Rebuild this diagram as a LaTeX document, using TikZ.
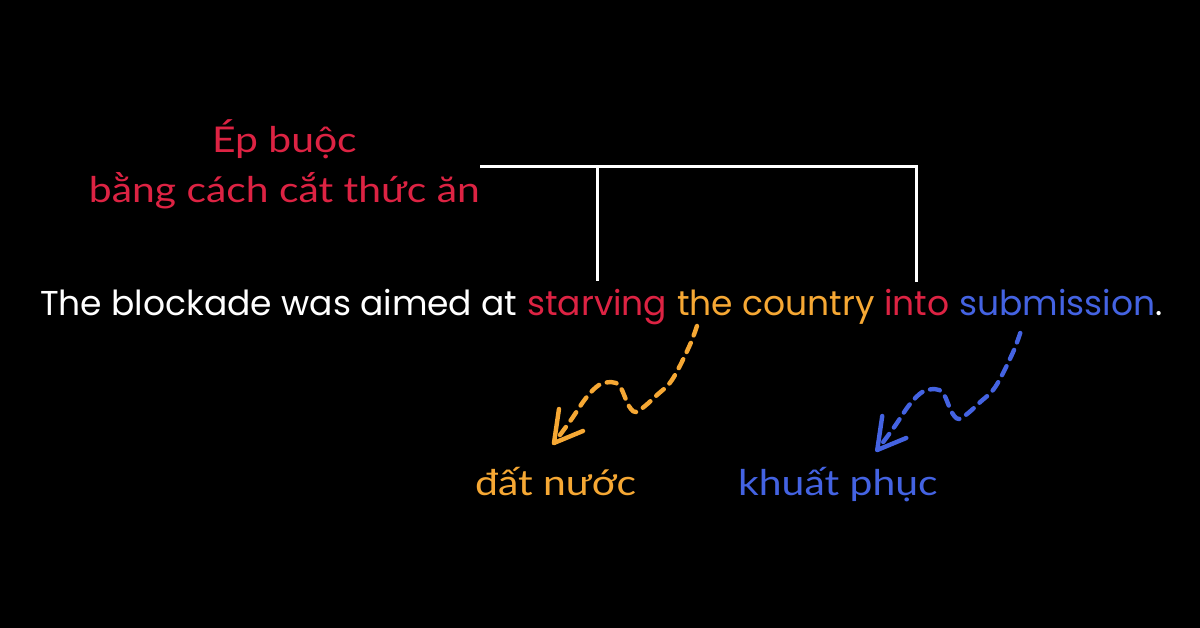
\documentclass[tikz,border=0pt]{standalone}
\usepackage{fontspec}
\setmainfont{Poppins}
\newfontfamily\vifont[FakeStretch=1.15]{Lato}
\usetikzlibrary{calc}
\definecolor{hlred}{HTML}{DD2343}
\definecolor{hlorange}{HTML}{F6A834}
\definecolor{hlblue}{HTML}{4463E2}
\newcommand\sentfont{\fontsize{34.5}{40}\selectfont}
\newcommand\visize{\vifont\fontsize{35.5}{42}\selectfont}
\begin{document}
\begin{tikzpicture}[x=1pt,y=-1pt,
  word/.style={inner sep=0pt, anchor=base west, font=\sentfont},
  vilabel/.style={inner sep=0pt, font=\visize},
  bracket/.style={draw=white, line width=3pt, line cap=butt, line join=miter},
  wavy/.style={line width=4.4pt, line cap=round, line join=round, dash pattern=on 10pt off 8pt},
  barb/.style={line width=4.4pt, line cap=round, line join=round}]
\fill[black] (0,0) rectangle (1200,628);
\useasboundingbox (0,0) rectangle (1200,628);
% sentence
\node[word, text=white] (w1) at (40,316) {The blockade was aimed at};
\node[word, text=hlred] (starv) at ([xshift=9.5pt]w1.base east) {starving};
\node[word, text=hlorange] (thec) at ([xshift=9.5pt]starv.base east) {the country};
\node[word, text=hlred] (into) at ([xshift=9.5pt]thec.base east) {into};
\node[word, text=hlblue] (subm) at ([xshift=9.5pt]into.base east) {submission};
\node[word, text=white] (dot) at (subm.base east) {.};
% red labels
\node[vilabel, text=hlred, anchor=base east] (lbl2) at (480,203) {bằng cách cắt thức ăn};
\node[vilabel, text=hlred, anchor=base] (lbl1) at (lbl2.center |- 0,153) {Ép buộc};
% bracket
\coordinate (top) at (0,167);
\draw[bracket] (lbl2.east |- top) -- (into.north |- top) -- ([yshift=8pt]into.north);
\draw[bracket] (starv.north |- top) -- ([yshift=9pt]starv.north);
% bottom labels
\node[vilabel, text=hlorange, anchor=base west] (dat) at (475,495) {đất nước};
\node[vilabel, text=hlblue, anchor=base west] (khuat) at (738,495) {khuất phục};
% wavy arrows
\coordinate (os) at ([shift={(20,10)}]thec.base west);
\coordinate (bs) at ([shift={(61,17)}]subm.base west);
\foreach \s/\c in {os/hlorange, bs/hlblue}{
  \begin{scope}[shift={(\s)}]
    \draw[wavy, draw=\c] plot[smooth, tension=0.6] coordinates {(0,0) (-8,21) (-25,54) (-40,69) (-52,80) (-61,86) (-66,83) (-70,76) (-76,62) (-81,57) (-86,56) (-98,59) (-111,72) (-126,94) (-143,117)};
    \coordinate (tip) at (-143,117);
    \draw[barb, draw=\c] ([shift={(5,-34)}]tip) -- (tip) -- ([shift={(29,-12)}]tip);
  \end{scope}
}
\end{tikzpicture}
\end{document}
